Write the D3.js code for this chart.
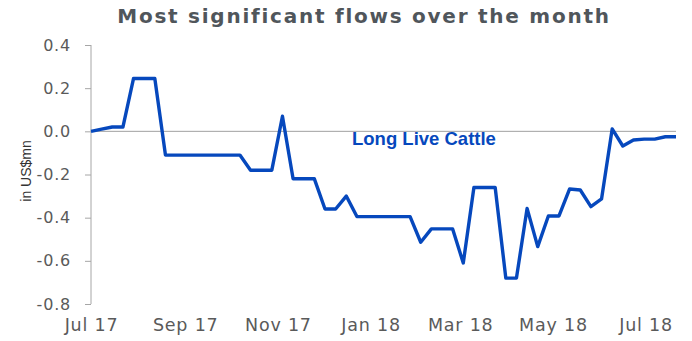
<!DOCTYPE html>
<html>
<head>
<meta charset="utf-8">
<script src="https://cdn.jsdelivr.net/npm/d3@7/dist/d3.min.js"></script>
<style>
  html, body { margin: 0; padding: 0; background: #ffffff; }
  svg { display: block; }
</style>
</head>
<body>
<div id="chart"></div>
<script>
// Weekly net flows, Long Live Cattle (US$ mn), starting 1 Jul 2017
const startDate = "2017-07-01";
const flowValues = [
  0, 0.01, 0.02, 0.02, 0.245, 0.245, 0.245, -0.11,
  -0.11, -0.11, -0.11, -0.11, -0.11, -0.11, -0.11, -0.18,
  -0.18, -0.18, 0.07, -0.22, -0.22, -0.22, -0.36, -0.36,
  -0.30, -0.395, -0.395, -0.395, -0.395, -0.395, -0.395, -0.514,
  -0.452, -0.452, -0.452, -0.61, -0.26, -0.26, -0.26, -0.68,
  -0.68, -0.357, -0.534, -0.392, -0.392, -0.267, -0.272, -0.349,
  -0.313, 0.011, -0.068, -0.04, -0.036, -0.036, -0.025, -0.025
];
const seriesName = "Long Live Cattle";
const xTickDates = ["2017-07-01", "2017-09-01", "2017-11-01", "2018-01-01", "2018-03-01", "2018-05-01", "2018-07-01"];
const xTickLabels = ["Jul 17", "Sep 17", "Nov 17", "Jan 18", "Mar 18", "May 18", "Jul 18"];
const yTicks = [0.4, 0.2, 0.0, -0.2, -0.4, -0.6, -0.8];
const yTickLabels = ["0.4", "0.2", "0.0", "-0.2", "-0.4", "-0.6", "-0.8"];
const titleText = "Most significant flows over the month";
const yAxisTitle = "in US$mn";

const width = 692, height = 341;
const parse = d3.utcParse("%Y-%m-%d");
const t0 = parse(startDate);
const data = flowValues.map((v, i) => ({ date: d3.utcDay.offset(t0, 7 * i), value: v }));

const svg = d3.select("#chart").append("svg")
  .attr("width", width).attr("height", height);

const x = d3.scaleUtc()
  .domain([t0, data[data.length - 1].date])
  .range([91, 676]);
const y = d3.scaleLinear()
  .domain([-0.8, 0.4])
  .range([304, 45]);

// Title
svg.append("text")
  .attr("x", 364).attr("y", 23)
  .attr("text-anchor", "middle")
  .attr("font-family", "DejaVu Sans, sans-serif")
  .attr("font-weight", "bold")
  .attr("font-size", 20)
  .attr("letter-spacing", "1.75px")
  .attr("fill", "#50565b")
  .text(titleText);

// Y axis
const yAxis = svg.append("g")
  .attr("transform", `translate(${x.range()[0]},0)`)
  .call(d3.axisLeft(y).tickValues(yTicks).tickSize(6).tickPadding(14)
    .tickFormat((d, i) => yTickLabels[i]));
yAxis.select(".domain").attr("stroke", "#a6a6a6").attr("d", `M0,${y(0.4)}V${y(-0.8)}`);
yAxis.selectAll(".tick line").attr("stroke", "#a6a6a6");
yAxis.selectAll(".tick text")
  .attr("font-family", "DejaVu Sans, sans-serif")
  .attr("font-size", 16)
  .attr("letter-spacing", "0.8px")
  .attr("fill", "#5a5a5a");

// Y axis title
svg.append("text")
  .attr("transform", `translate(31,171) rotate(-90)`)
  .attr("text-anchor", "middle")
  .attr("font-family", "Liberation Sans, Arial, sans-serif")
  .attr("font-size", 14)
  .attr("fill", "#333333")
  .text(yAxisTitle);

// Zero line
svg.append("line")
  .attr("x1", x.range()[0]).attr("x2", x.range()[1])
  .attr("y1", y(0)).attr("y2", y(0))
  .attr("stroke", "#a0a0a0").attr("stroke-width", 1);

// X axis labels
const xAxis = svg.append("g")
  .attr("transform", `translate(0,${y(-0.8)})`)
  .call(d3.axisBottom(x)
    .tickValues(xTickDates.map(parse))
    .tickSize(0).tickPadding(15)
    .tickFormat((d, i) => xTickLabels[i]));
xAxis.select(".domain").remove();
xAxis.selectAll(".tick text")
  .attr("font-family", "DejaVu Sans, sans-serif")
  .attr("font-size", 17.5)
  .attr("letter-spacing", "0.8px")
  .attr("fill", "#5a5a5a");

// Flow line
svg.append("path")
  .datum(data)
  .attr("fill", "none")
  .attr("stroke", "#0648bd")
  .attr("stroke-width", 3.4)
  .attr("stroke-linejoin", "round")
  .attr("d", d3.line().x(d => x(d.date)).y(d => y(d.value)));

// Series label
svg.append("text")
  .attr("x", 352).attr("y", 145)
  .attr("font-family", "Liberation Sans, Arial, sans-serif")
  .attr("font-weight", "bold")
  .attr("font-size", 18.5)
  .attr("fill", "#0648bd")
  .text(seriesName);
</script>
</body>
</html>
